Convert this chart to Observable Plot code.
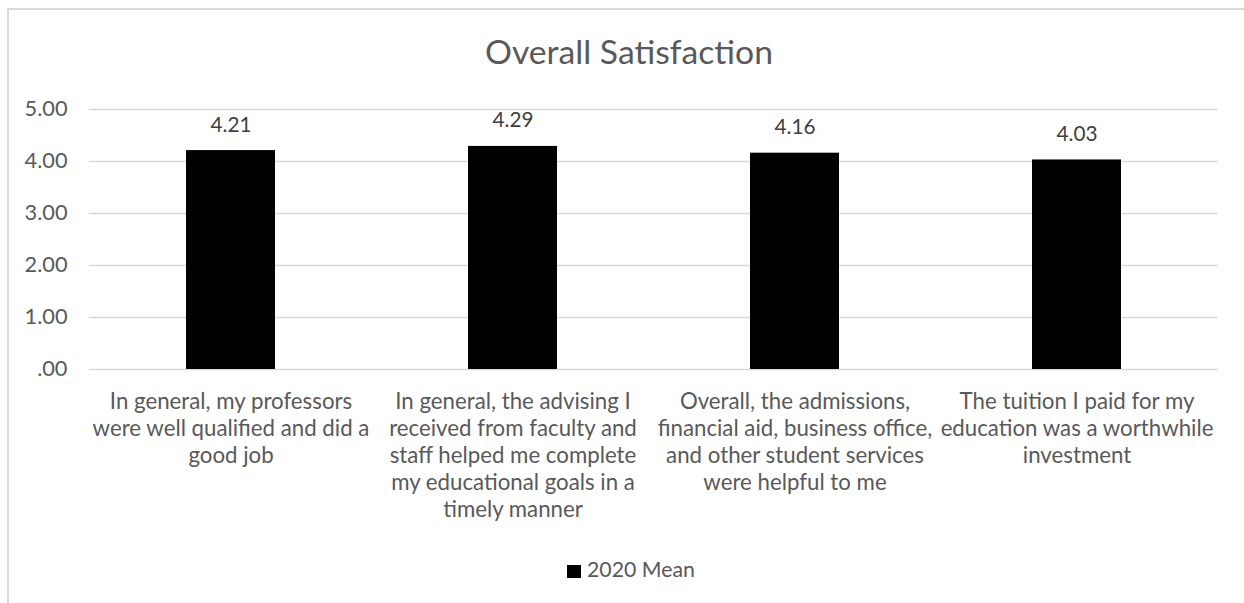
<!DOCTYPE html>
<html>
<head>
<meta charset="utf-8">
<script src="https://cdn.jsdelivr.net/npm/d3@7"></script>
<script src="https://cdn.jsdelivr.net/npm/@observablehq/plot@0.6"></script>
<style>
  html, body { margin: 0; padding: 0; background: #fff; }
  body { width: 1244px; height: 603px; position: relative; overflow: hidden; font-family: Lato, sans-serif; }
  #frame { position: absolute; left: 7px; top: 8px; width: 1260px; height: 620px; border-left: 2px solid #d9d9d9; border-top: 2px solid #d9d9d9; }
  #title { position: absolute; left: 485px; top: 36px; white-space: nowrap; color: #595959; line-height: 1; }
  #chart { position: absolute; left: 0; top: 0; }
  #legend { position: absolute; left: 567px; top: 565px; color: #595959; white-space: nowrap; }
  #legend .sw { position: absolute; left: 0; top: 0; width: 14px; height: 13px; background: #000; }
  #legend .lab { position: absolute; left: 20px; line-height: 1; }
</style>
</head>
<body>
<div id="frame"></div>
<div id="title">Overall Satisfaction</div>
<div id="chart"></div>
<div id="legend"><span class="sw"></span><span class="lab">2020 Mean</span></div>
<script>
const categories = [
  "In general, my professors were well qualified and did a good job",
  "In general, the advising I received from faculty and staff helped me complete my educational goals in a timely manner",
  "Overall, the admissions, financial aid, business office, and other student services were helpful to me",
  "The tuition I paid for my education was a worthwhile investment"
];
const tickLabels = [
  "In general, my professors\nwere well qualified and did a\ngood job",
  "In general, the advising I\nreceived from faculty and\nstaff helped me complete\nmy educational goals in a\ntimely manner",
  "Overall, the admissions,\nfinancial aid, business office,\nand other student services\nwere helpful to me",
  "The tuition I paid for my\neducation was a worthwhile\ninvestment"
];
const mean2020 = [4.21, 4.29, 4.16, 4.03];
const yTicks = [0, 1, 2, 3, 4, 5];
const yTickLabels = [".00", "1.00", "2.00", "3.00", "4.00", "5.00"];

const FONT = "Lato";
const ctx = document.createElement("canvas").getContext("2d");
function fit(text, target) {
  ctx.font = `100px ${FONT}`;
  return 100 * target / ctx.measureText(text).width;
}
const tickSize = fit("5.00", 43);
const valueSize = fit("4.21", 41);
const xSize = fit("In general, my professors", 243);
const titleSize = fit("Overall Satisfaction", 288);
const legendSize = fit("2020 Mean", 108);
const xLine = 27;
const xBaseline = 405;

const title = document.getElementById("title");
title.style.fontSize = titleSize + "px";
title.style.top = (65 - 0.887 * titleSize) + "px";
const lab = document.querySelector("#legend .lab");
lab.style.fontSize = legendSize + "px";
lab.style.top = (13 - 0.887 * legendSize) + "px";

const data = categories.map((c, i) => ({category: c, value: mean2020[i]}));

const chart = Plot.plot({
  width: 1244,
  height: 540,
  marginTop: 109,
  marginBottom: 171,
  marginLeft: 89,
  marginRight: 26,
  style: {fontFamily: FONT, color: "#595959", background: "transparent", overflow: "visible"},
  x: {domain: categories, paddingInner: 0.685, paddingOuter: 0.3425, axis: null},
  y: {domain: [0, 5], axis: null},
  marks: [
    Plot.ruleY(yTicks, {stroke: "#d9d9d9", strokeWidth: 1.3}),
    Plot.barY(data, {x: "category", y: "value", fill: "#000"}),
    Plot.text(data, {x: "category", y: "value", text: d => d.value.toFixed(2), lineAnchor: "bottom", dy: -19, fill: "#404040", fontSize: valueSize}),
    Plot.axisY(yTicks, {tickSize: 0, tickPadding: 22, tickFormat: d => yTickLabels[yTicks.indexOf(d)], fill: "#595959", fontSize: tickSize, label: null}),
    Plot.axisX(categories, {tickSize: 0, tickPadding: xBaseline - 369 - 0.71 * xSize, tickFormat: d => tickLabels[categories.indexOf(d)], fill: "#595959", fontSize: xSize, lineHeight: xLine / xSize, label: null})
  ]
});
document.getElementById("chart").appendChild(chart);
</script>
</body>
</html>
